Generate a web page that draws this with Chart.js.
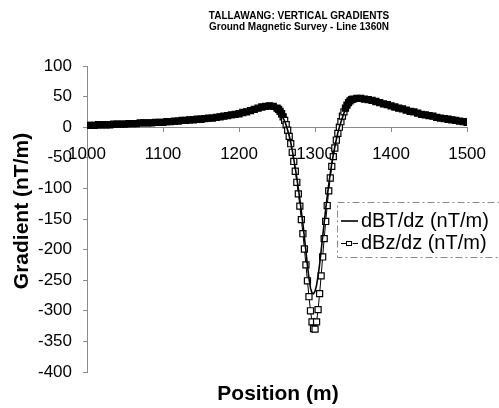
<!DOCTYPE html>
<html>
<head>
<meta charset="utf-8">
<script src="https://cdn.jsdelivr.net/npm/chart.js@4"></script>
<style>
  html, body { margin: 0; padding: 0; background: #fff; }
  #wrap { width: 499px; height: 408px; }
</style>
</head>
<body>
<div id="wrap"><canvas id="grad"></canvas></div>
<script>
// station positions (m) along line 1360N
var positions = [
  1000,1005,1010,1015,1020,1025,1030,1035,1040,1045,
  1050,1055,1060,1065,1070,1075,1080,1085,1090,1095,
  1100,1105,1110,1115,1120,1125,1130,1135,1140,1145,
  1150,1155,1160,1165,1170,1175,1180,1185,1190,1195,
  1200,1205,1210,1215,1220,1225,1230,1235,1240,1245,
  1250,1252,1254,1256,1258,1260,1262,1264,1266,1268,
  1270,1272,1274,1276,1278,1280,1282,1284,1286,1288,
  1290,1292,1294,1296,1298,1300,1302,1304,1306,1308,
  1310,1312,1314,1316,1318,1320,1322,1324,1326,1328,
  1330,1332,1334,1336,1338,1340,1342,1344,1346,1348,1350,
  1355,1360,1365,1370,1375,1380,1385,1390,1395,1400,
  1405,1410,1415,1420,1425,1430,1435,1440,1445,1450,
  1455,1460,1465,1470,1475,1480,1485,1490,1495,1500
];

var dBT = [
  3,3,3,4,4,4,4,5,5,5,
  5,6,6,6,7,7,7,7,8,8,
  8,9,9,10,10,11,11,12,12,13,
  13,14,15,15,16,17,18,19,20,21,
  21,23,24,26,28,30,31,32,33,32,
  29,27,24,20,15,10,3,-5,-14,-25,
  -38,-52,-67,-83,-100,-118,-138,-158,-180,-203,
  -226,-247,-263,-271,-272,-268,-258,-243,-224,-202,
  -179,-156,-134,-113,-94,-76,-59,-45,-32,-20,
  -9,0,8,16,23,28,33,37,40,42,43,
  44,44,44,43,42,40,38,37,35,34,
  32,30,29,27,25,24,22,21,19,18,
  17,16,15,14,13,12,11,10,9,8
];

var dBz = [
  3,3,3,4,4,4,4,5,5,5,
  5,6,6,6,7,7,7,7,8,8,
  8,9,9,10,10,11,11,12,12,13,
  13,14,15,15,16,17,18,19,20,21,
  22,24,25,27,29,31,33,34,35,34,
  31,29,26,22,17,11,4,-5,-15,-27,
  -41,-56,-72,-90,-109,-129,-151,-174,-199,-225,
  -251,-277,-300,-318,-329,-330,-318,-298,-272,-243,
  -212,-182,-154,-128,-104,-83,-64,-48,-34,-21,
  -10,0,9,18,25,31,36,40,43,45,46,
  47,47,46,45,44,42,40,38,37,35,
  33,31,30,28,26,25,23,21,20,19,
  18,16,15,14,13,12,11,10,9,8
];

var seriesNames = ['dBT/dz (nT/m)', 'dBz/dz (nT/m)'];
var yTicks = [100, 50, 0, -50, -100, -150, -200, -250, -300, -350, -400];

var axisGray = '#8a8a8a';
var dashDot = [7, 3, 2, 3];
var fontFam = '"Liberation Sans", Arial, sans-serif';

function pts(vals) {
  return positions.map(function (p, i) { return { x: p, y: vals[i] }; });
}

// markers crowded by both neighbours run together into a solid band
function markerFill(c) {
  var i = c.dataIndex;
  var sx = c.chart.scales.x, sy = c.chart.scales.y;
  if (!sx || !sy || i === undefined) return '#fff';
  function gap(j) {
    if (j < 0 || j >= positions.length) return 0;
    var dx = sx.getPixelForValue(positions[j]) - sx.getPixelForValue(positions[i]);
    var dy = sy.getPixelForValue(dBz[j]) - sy.getPixelForValue(dBz[i]);
    return Math.sqrt(dx * dx + dy * dy);
  }
  return Math.max(gap(i - 1), gap(i + 1)) < 4.5 ? '#000' : '#fff';
}

// titles, axis names and the boxed legend are drawn here
var extras = {
  id: 'extras',
  afterDraw: function (chart) {
    var ctx = chart.ctx;
    ctx.save();
    ctx.fillStyle = '#000';
    ctx.textAlign = 'center';
    ctx.textBaseline = 'middle';
    ctx.font = 'bold 10px ' + fontFam;
    ctx.fillText('TALLAWANG: VERTICAL GRADIENTS', 299, 16);
    ctx.fillText('Ground Magnetic Survey - Line 1360N', 299, 27);

    ctx.font = 'bold 21px ' + fontFam;
    ctx.fillText('Position (m)', 278, 394);
    ctx.save();
    ctx.translate(22, 211);
    ctx.rotate(-Math.PI / 2);
    ctx.fillText('Gradient (nT/m)', 0, 0);
    ctx.restore();

    // legend
    ctx.fillStyle = '#fff';
    ctx.fillRect(337, 202, 170, 56);
    ctx.strokeStyle = axisGray;
    ctx.lineWidth = 1;
    ctx.setLineDash(dashDot);
    ctx.strokeRect(337.5, 202.5, 170, 55);
    ctx.setLineDash([]);
    ctx.strokeStyle = '#000';
    ctx.lineWidth = 1.6;
    ctx.beginPath(); ctx.moveTo(341, 221); ctx.lineTo(358, 221); ctx.stroke();
    ctx.lineWidth = 1;
    ctx.beginPath(); ctx.moveTo(341, 243.5); ctx.lineTo(358, 243.5); ctx.stroke();
    ctx.fillStyle = '#fff';
    ctx.fillRect(346.5, 241, 6, 5);
    ctx.strokeRect(346.5, 241.5, 5, 4);
    ctx.fillStyle = '#000';
    ctx.textAlign = 'left';
    ctx.font = '20px ' + fontFam;
    ctx.fillText(seriesNames[0], 361, 221);
    ctx.fillText(seriesNames[1], 361, 243);
    ctx.restore();
  }
};

new Chart(document.getElementById('grad'), {
  type: 'line',
  data: {
    datasets: [{
      label: seriesNames[1],
      data: pts(dBz),
      borderColor: '#000',
      borderWidth: 1,
      pointStyle: 'rect',
      pointRadius: 4.3,
      pointBackgroundColor: markerFill,
      pointBorderColor: '#000',
      pointBorderWidth: 1.2,
      tension: 0,
      order: 2
    }, {
      label: seriesNames[0],
      data: pts(dBT),
      borderColor: '#000',
      borderWidth: 1.6,
      pointRadius: 0,
      tension: 0,
      order: 1
    }]
  },
  options: {
    responsive: true,
    maintainAspectRatio: false,
    animation: false,
    layout: { padding: { left: 0, right: 27, top: 66, bottom: 36 } },
    plugins: {
      legend: { display: false },
      title: { display: false },
      tooltip: { enabled: false }
    },
    scales: {
      x: {
        type: 'linear',
        position: { y: 0 },
        min: 1000,
        max: 1500,
        ticks: {
          stepSize: 100,
          color: '#000',
          padding: 13,
          callback: function (v) { return String(v); },
          font: { family: fontFam, size: 17 }
        },
        grid: { drawOnChartArea: false, tickLength: 4, color: axisGray },
        border: { color: axisGray, dash: dashDot }
      },
      y: {
        min: -400,
        max: 100,
        afterFit: function (s) { s.width = 87; },
        afterBuildTicks: function (s) {
          s.ticks = yTicks.map(function (v) { return { value: v }; });
        },
        ticks: {
          color: '#000',
          padding: 11,
          font: { family: fontFam, size: 17 }
        },
        grid: { drawOnChartArea: false, tickLength: 4, color: axisGray },
        border: { color: axisGray, dash: dashDot }
      }
    }
  },
  plugins: [extras]
});
</script>
</body>
</html>
